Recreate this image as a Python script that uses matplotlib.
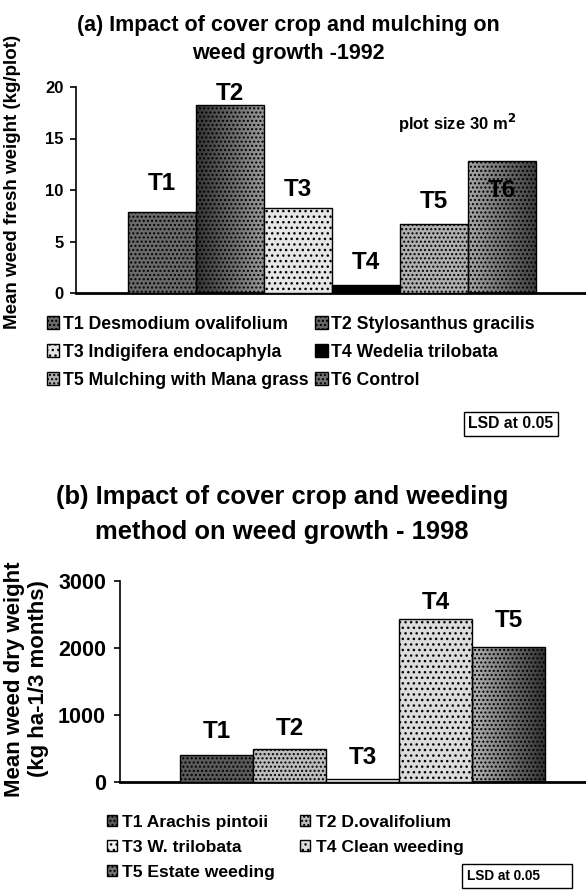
import matplotlib
matplotlib.use("Agg")
import numpy as np
import matplotlib.pyplot as plt
from matplotlib.patches import Patch

plt.rcParams["font.family"] = ["Liberation Sans", "DejaVu Sans"]
plt.rcParams["font.weight"] = "bold"
plt.rcParams["hatch.linewidth"] = 1.0

# (a) 1992 - mean weed fresh weight (kg/plot)
a_labels = ["T1", "T2", "T3", "T4", "T5", "T6"]
a_names = ["Desmodium ovalifolium", "Stylosanthus gracilis", "Indigifera endocaphyla",
           "Wedelia trilobata", "Mulching with Mana grass", "Control"]
a_values = [7.9, 18.3, 8.3, 0.8, 6.7, 12.8]

# (b) 1998 - mean weed dry weight (kg ha-1/3 months)
b_labels = ["T1", "T2", "T3", "T4", "T5"]
b_names = ["Arachis pintoii", "D.ovalifolium", "W. trilobata", "Clean weeding", "Estate weeding"]
b_values = [400, 490, 50, 2430, 2020]

# styles: face grey, hatch, optional left->right grey shading
a_faces = ["#6a6a6a", "#555555", "#e6e6e6", "#000000", "#b0b0b0", "#8a8a8a"]
a_hatch = ["....", "....", "...", None, "....", "...."]
a_shade = [None, (0.2, 0.6), None, None, None, (0.65, 0.25)]
a_label_off = [20, 8, 13, 16, 16, -21]   # points, label centre relative to bar top
b_faces = ["#5a5a5a", "#bdbdbd", "#f2f2f2", "#dcdcdc", "#7a7a7a"]
b_hatch = ["....", "....", "...", "...", "...."]
b_shade = [None, None, None, None, (0.7, 0.2)]
b_label_off = [17, 15, 15, 12, 19]

W, H = 586, 890
fig = plt.figure(figsize=(W / 100, H / 100), dpi=100)


def px_axes(left, right, top, bottom):
    return fig.add_axes([left / W, 1 - bottom / H, (right - left) / W, (bottom - top) / H])


def style_axes(ax, tick_size, pad):
    for s in ["top", "right"]:
        ax.spines[s].set_visible(False)
    ax.spines["left"].set_linewidth(1.2)
    ax.spines["bottom"].set_linewidth(2.0)
    ax.set_xticks([])
    ax.tick_params(axis="y", length=4, width=1.2, labelsize=tick_size, pad=pad)
    for t in ax.get_yticklabels():
        t.set_fontweight("bold")


def draw_bars(ax, labels, values, faces, hatches, shades, offsets, label_size):
    x = list(range(len(values)))
    faces = [f if s is None else "none" for f, s in zip(faces, shades)]
    bars = ax.bar(x, values, width=1.0, color=faces, edgecolor="black", linewidth=1.0, zorder=3)
    for b, h, s in zip(bars, hatches, shades):
        if h:
            b.set_hatch(h)
        if s is not None:
            grad = np.linspace(s[0], s[1], 64).reshape(1, -1)
            x0, w, hgt = b.get_x(), b.get_width(), b.get_height()
            im = ax.imshow(grad, cmap="gray", vmin=0, vmax=1, aspect="auto",
                           extent=(x0, x0 + w, 0, hgt), zorder=2, interpolation="bilinear")
            im.set_clip_path(b)
    for b, lab, off in zip(bars, labels, offsets):
        ax.annotate(lab, (b.get_x() + b.get_width() / 2, b.get_height()),
                    xytext=(0, off), textcoords="offset points", zorder=4,
                    ha="center", va="center", fontsize=label_size, fontweight="bold")
    return bars


# ---- panel (a) ----
ax1 = px_axes(76, 586, 87, 293)
bars_a = draw_bars(ax1, a_labels, a_values, a_faces, a_hatch, a_shade, a_label_off, 17.5)
ax1.set_ylim(0, 20)
ax1.set_yticks([0, 5, 10, 15, 20])
ax1.set_xlim(-1.265, 6.235)
style_axes(ax1, 12, 5)
ax1.text((457 - 76) / 510, (293 - 123) / 206, r"plot size 30 m$^\mathbf{2}$",
         transform=ax1.transAxes, ha="center", va="center", fontsize=12, fontweight="bold")
fig.text(288 / W, 1 - 25 / H, "(a) Impact of cover crop and mulching on",
         ha="center", va="center", fontsize=15.5, fontweight="bold")
fig.text(288 / W, 1 - 54 / H, "weed growth -1992",
         ha="center", va="center", fontsize=15.5, fontweight="bold")
fig.text(13 / W, 1 - 182 / H, "Mean weed fresh weight (kg/plot)", rotation=90,
         ha="center", va="center", fontsize=13.5, fontweight="bold")

order_a = [0, 2, 4, 1, 3, 5]
handles_a = []
for i in order_a:
    face = a_faces[i] if a_shade[i] is None else str(sum(a_shade[i]) / 2)
    handles_a.append(Patch(facecolor=face, edgecolor="black", hatch=a_hatch[i],
                           label=f"{a_labels[i]} {a_names[i]}"))
fig.legend(handles=handles_a, ncol=2, loc="upper left",
           bbox_to_anchor=(38 / W, 1 - 307 / H), frameon=False,
           prop={"weight": "bold", "size": 12.7}, handlelength=0.7, handleheight=0.7,
           handletextpad=0.2, columnspacing=0.4, labelspacing=0.62, borderpad=0)
fig.text(511 / W, 1 - 424 / H, "LSD at 0.05", ha="center", va="center",
         fontsize=11.3, fontweight="bold",
         bbox=dict(boxstyle="square,pad=0.3", facecolor="white", edgecolor="black", linewidth=1))

# ---- panel (b) ----
ax2 = px_axes(120, 586, 581, 782)
bars_b = draw_bars(ax2, b_labels, b_values, b_faces, b_hatch, b_shade, b_label_off, 17.5)
ax2.set_ylim(0, 3000)
ax2.set_yticks([0, 1000, 2000, 3000])
ax2.set_xlim(-1.322, 5.062)
style_axes(ax2, 15.5, 6)
fig.text(282 / W, 1 - 497 / H, "(b) Impact of cover crop and weeding",
         ha="center", va="center", fontsize=18.4, fontweight="bold")
fig.text(282 / W, 1 - 532 / H, "method on weed growth - 1998",
         ha="center", va="center", fontsize=18.4, fontweight="bold")
fig.text(15 / W, 1 - 679 / H, "Mean weed dry weight", rotation=90,
         ha="center", va="center", fontsize=16, fontweight="bold")
fig.text(39 / W, 1 - 679 / H, "(kg ha-1/3 months)", rotation=90,
         ha="center", va="center", fontsize=16, fontweight="bold")

order_b = [0, 2, 4, 1, 3]
handles_b = []
for i in order_b:
    face = b_faces[i] if b_shade[i] is None else str(sum(b_shade[i]) / 2)
    handles_b.append(Patch(facecolor=face, edgecolor="black", hatch=b_hatch[i],
                           label=f"{b_labels[i]} {b_names[i]}"))
fig.legend(handles=handles_b, ncol=2, loc="upper left",
           bbox_to_anchor=(98 / W, 1 - 806 / H), frameon=False,
           prop={"weight": "bold", "size": 12.6}, handlelength=0.6, handleheight=0.6,
           handletextpad=0.3, columnspacing=1.4, labelspacing=0.58, borderpad=0)
fig.text(467 / W, 1 - 876 / H, "LSD at 0.05       ", ha="left", va="center",
         fontsize=9.8, fontweight="bold",
         bbox=dict(boxstyle="square,pad=0.4", facecolor="white", edgecolor="black", linewidth=1))

fig.savefig("out.png", dpi=100, facecolor="white")
